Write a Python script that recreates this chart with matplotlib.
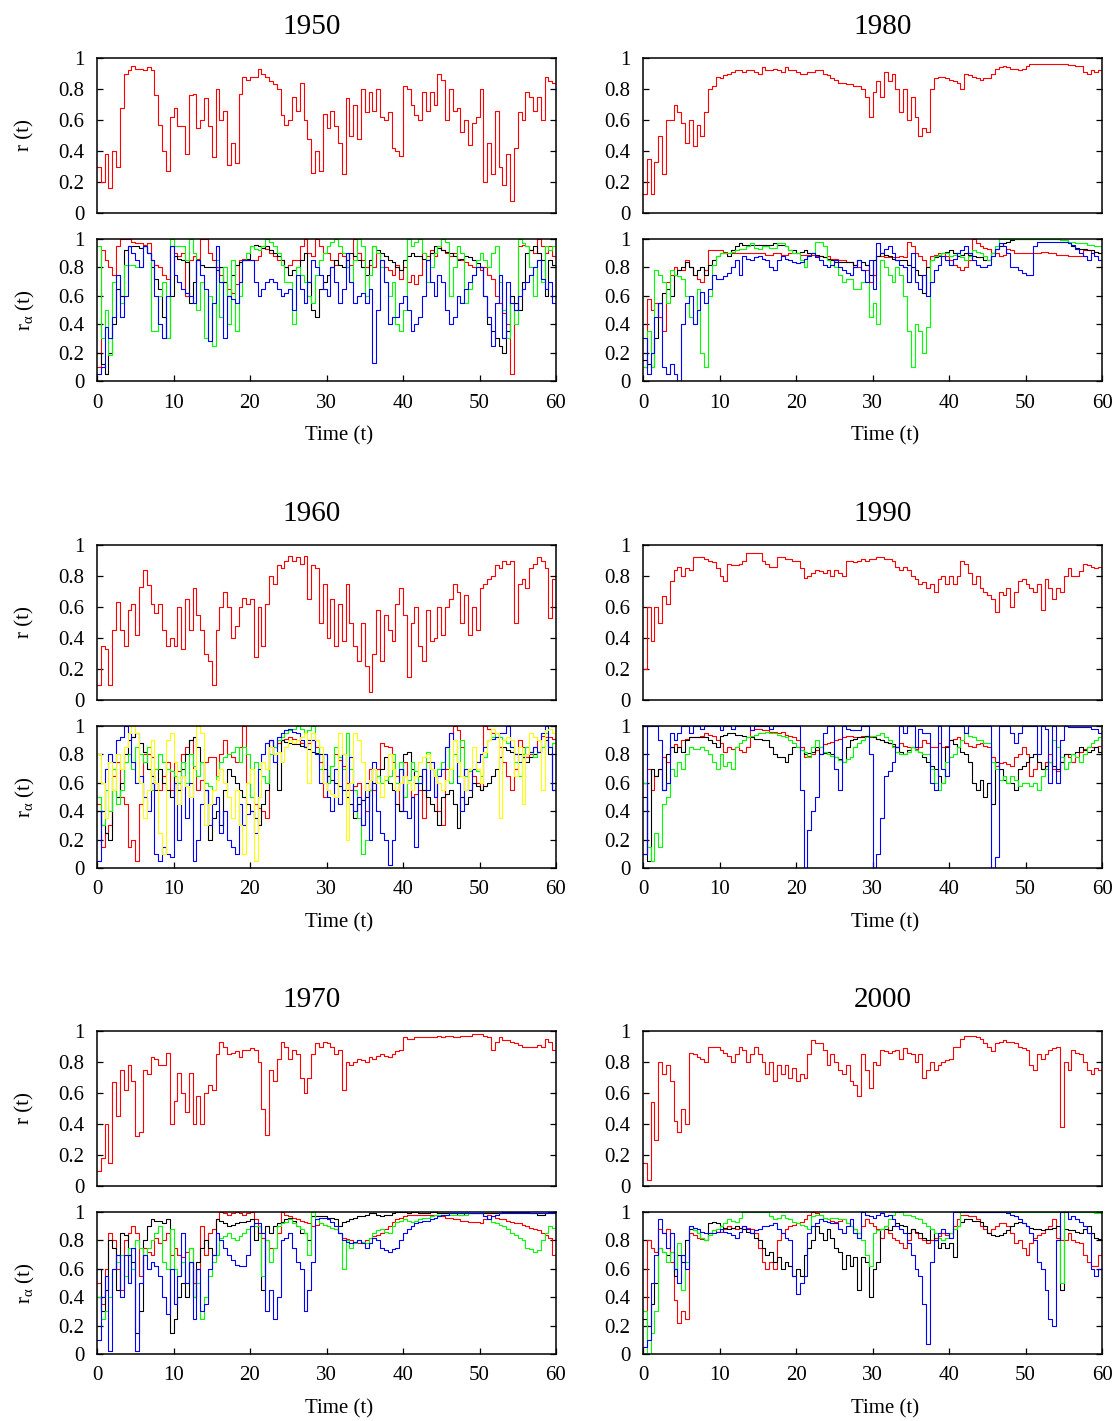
import numpy as np
import matplotlib
matplotlib.use("Agg")
import matplotlib.pyplot as plt

plt.rcParams['font.family'] = ['Liberation Serif', 'DejaVu Serif']
plt.rcParams['mathtext.fontset'] = 'custom'
plt.rcParams['mathtext.rm'] = 'Liberation Serif'
plt.rcParams['mathtext.it'] = 'Liberation Serif:italic'

# ---------------- data ----------------
T_STEP = 0.5
X_TICKS = [0, 10, 20, 30, 40, 50, 60]
Y_TICKS = [0, 0.2, 0.4, 0.6, 0.8, 1.0]
Y_TICK_LABELS = ['0', '0.2', '0.4', '0.6', '0.8', '1']

R_1950 = [0.30,0.20,0.38,0.16,0.40,0.30,0.68,0.90,0.92,0.95, 0.93,0.93,0.92,0.94,0.92,0.76,0.57,0.40,0.27,0.62,
          0.68,0.56,0.56,0.38,0.76,0.77,0.55,0.60,0.74,0.56, 0.36,0.80,0.60,0.66,0.31,0.45,0.32,0.77,0.88,0.86,
          0.88,0.88,0.93,0.90,0.88,0.85,0.83,0.80,0.63,0.57, 0.60,0.75,0.66,0.84,0.60,0.48,0.26,0.40,0.27,0.64,
          0.55,0.66,0.56,0.45,0.25,0.74,0.50,0.70,0.48,0.80, 0.65,0.78,0.66,0.80,0.62,0.60,0.65,0.42,0.40,0.37,
          0.82,0.80,0.70,0.63,0.60,0.78,0.66,0.78,0.70,0.90, 0.86,0.60,0.80,0.66,0.68,0.52,0.60,0.44,0.58,0.62,
          0.80,0.20,0.45,0.25,0.66,0.30,0.18,0.38,0.08,0.42, 0.65,0.60,0.78,0.75,0.66,0.75,0.60,0.88,0.85,0.84,0.73]
RA_1950_RED = [0.10,0.92,0.85,0.80,0.75,0.95,1.00,1.00,1.00,0.98, 0.97,0.97,0.96,0.97,0.85,0.82,0.80,0.75,0.72,0.95,
               0.90,0.88,0.90,0.60,0.85,0.88,0.86,1.00,1.00,0.90, 0.85,0.80,0.75,0.70,0.65,0.62,0.68,0.85,0.86,0.85,
               0.85,0.85,0.88,0.95,0.93,0.90,0.88,0.85,0.85,0.80, 0.82,0.85,0.85,0.95,1.00,0.90,0.88,1.00,0.95,0.90,
               0.90,0.85,0.82,0.90,0.88,0.80,0.82,1.00,0.90,0.85, 0.80,0.82,0.80,0.90,0.85,0.80,0.78,0.75,0.82,0.72,
               0.80,0.70,0.75,0.68,0.75,0.90,0.88,0.92,0.88,0.95, 0.92,0.90,0.88,0.90,0.86,0.85,0.84,0.82,0.80,0.80,
               0.78,0.80,0.75,0.72,0.60,0.55,0.48,0.40,0.05,0.50, 0.95,0.96,0.95,0.92,0.90,1.00,0.95,0.90,0.95,0.88,0.85]
RA_1950_BLACK = [0.20,0.12,0.05,0.20,0.40,0.65,0.60,0.92,0.95,0.95, 0.95,0.94,0.95,0.90,0.80,0.72,0.65,0.45,0.30,0.60,
                 0.88,0.86,0.85,0.84,0.55,0.70,0.85,0.82,0.80,0.80, 0.80,0.78,0.80,0.70,0.60,0.75,0.82,0.84,0.85,0.86,
                 0.95,0.96,0.95,0.94,0.95,0.92,0.90,0.88,0.85,0.80, 0.75,0.78,0.80,0.85,0.90,0.70,0.50,0.45,0.65,0.70,
                 0.75,0.80,0.85,0.82,0.80,0.85,0.90,0.88,0.85,0.80, 0.75,0.85,0.95,0.92,0.90,0.88,0.85,0.84,0.80,0.78,
                 0.85,0.88,0.90,0.88,0.88,0.86,0.85,0.90,0.95,0.94, 0.92,0.91,0.90,0.88,0.85,0.86,0.88,0.87,0.85,0.83,
                 0.80,0.60,0.40,0.35,0.30,0.25,0.20,0.35,0.60,0.55, 0.50,0.70,0.90,0.92,0.95,0.90,0.85,0.60,0.85,0.82,0.80]
RA_1950_GREEN = [0.95,0.30,0.50,0.18,0.70,0.75,0.55,0.82,0.82,0.82, 0.80,0.80,0.95,0.90,0.35,0.35,0.60,0.70,0.30,1.00,
                 0.95,0.95,0.95,0.85,1.00,0.90,0.50,0.70,0.30,0.60, 0.25,0.85,0.45,0.80,0.40,0.85,0.35,0.60,0.85,0.90,
                 0.95,0.93,0.92,0.95,1.00,0.98,0.95,0.90,0.82,0.70, 0.70,0.40,0.80,0.75,0.70,0.60,0.55,0.75,0.85,0.90,
                 0.95,0.98,1.00,0.95,0.90,0.80,0.70,0.85,1.00,0.95, 0.60,0.75,0.95,0.90,0.80,0.70,0.60,0.70,0.40,0.35,
                 0.50,1.00,0.95,0.98,1.00,0.90,0.70,0.80,0.90,0.95, 1.00,0.98,0.60,0.80,0.95,0.90,0.55,0.65,0.75,0.85,
                 0.90,0.85,0.80,0.90,0.95,0.70,0.50,0.30,0.55,0.40, 1.00,0.97,0.95,0.80,0.60,0.85,0.70,0.95,0.92,0.95,0.95]
RA_1950_BLUE = [0.05,0.10,0.38,0.30,0.45,0.75,0.45,0.60,0.95,0.90, 0.85,0.80,0.95,0.90,0.85,0.60,0.40,0.30,0.60,0.95,
                0.75,0.70,0.65,0.62,0.60,0.55,0.85,0.75,0.65,0.28, 0.55,0.95,0.70,0.30,0.60,0.58,0.55,0.70,0.85,0.85,
                0.85,0.70,0.60,0.65,0.70,0.72,0.70,0.65,0.60,0.62, 0.65,0.50,0.75,0.65,0.55,0.70,0.85,0.80,0.75,0.65,
                0.60,0.80,0.70,0.55,0.65,0.90,0.70,0.55,0.60,0.62, 0.55,0.65,0.13,0.50,0.85,0.70,0.40,0.45,0.45,0.55,
                0.60,0.50,0.35,0.40,0.45,0.60,0.85,0.70,0.60,0.75, 0.70,0.50,0.40,0.45,0.60,0.55,0.65,0.70,0.75,0.80,
                0.80,0.60,0.45,0.25,0.55,0.75,0.30,0.70,0.55,0.50, 0.60,0.65,0.70,0.75,0.80,0.85,0.72,0.65,0.70,0.55,0.45]

R_1960 = [0.10,0.35,0.33,0.10,0.45,0.63,0.45,0.35,0.58,0.62, 0.42,0.73,0.84,0.74,0.62,0.56,0.62,0.45,0.35,0.40,
          0.35,0.60,0.33,0.65,0.45,0.72,0.55,0.45,0.30,0.25, 0.10,0.45,0.60,0.70,0.60,0.40,0.48,0.60,0.66,0.62,
          0.65,0.28,0.60,0.35,0.62,0.80,0.75,0.87,0.85,0.90, 0.93,0.90,0.92,0.88,0.93,0.65,0.87,0.85,0.50,0.75,
          0.40,0.65,0.35,0.62,0.38,0.75,0.50,0.35,0.25,0.50, 0.22,0.05,0.30,0.58,0.25,0.55,0.45,0.38,0.62,0.72,
          0.55,0.15,0.50,0.60,0.35,0.25,0.58,0.38,0.40,0.60, 0.42,0.60,0.65,0.75,0.70,0.50,0.68,0.42,0.60,0.45,
          0.72,0.75,0.78,0.80,0.87,0.85,0.90,0.88,0.90,0.50, 0.75,0.78,0.72,0.85,0.88,0.92,0.90,0.85,0.53,0.78,0.90]
RA_1960_RED = [0.45,0.15,0.25,0.30,0.65,0.75,0.50,0.45,0.15,0.20, 0.05,0.45,0.80,0.80,0.78,0.60,0.55,0.65,0.75,0.55,
               0.75,0.68,0.80,0.85,0.90,0.70,0.55,0.62,0.75,0.78, 0.78,0.65,0.80,0.90,0.80,0.78,0.75,0.85,1.00,0.60,
               0.50,0.45,0.42,0.40,0.35,0.90,0.85,0.88,0.90,0.91, 0.92,0.91,0.90,0.88,0.85,0.88,0.90,0.85,0.75,0.50,
               0.65,0.72,0.80,0.76,0.72,0.60,0.55,0.58,0.60,0.30, 0.40,0.70,0.55,0.70,0.88,0.86,0.85,0.75,0.65,0.40,
               0.75,0.60,0.50,0.52,0.55,0.35,0.75,0.70,0.65,0.40, 0.30,0.70,0.95,1.00,0.97,0.85,0.55,0.70,0.65,0.60,
               0.55,1.00,0.98,0.95,0.95,0.85,0.75,0.65,0.55,0.70, 0.90,0.85,0.78,0.80,0.85,0.90,0.93,0.92,0.92,0.91,0.90]
RA_1960_BLACK = [0.40,0.30,0.25,0.20,0.55,0.50,0.60,0.80,0.90,0.92, 0.95,0.88,0.82,0.70,0.65,0.55,0.70,0.60,0.55,0.50,
                 0.65,0.55,0.70,0.80,0.90,0.92,0.85,0.75,0.55,0.20, 0.35,0.40,0.30,0.55,0.70,0.65,0.60,0.55,0.50,0.45,
                 0.40,0.35,0.30,0.45,0.55,0.90,0.80,0.55,0.90,0.89, 0.88,0.87,0.87,0.86,0.85,0.84,0.82,0.81,0.80,0.70,
                 0.65,0.62,0.60,0.58,0.55,0.50,0.45,0.35,0.45,0.48, 0.50,0.55,0.60,0.65,0.70,0.78,0.60,0.55,0.45,0.40,
                 0.80,0.82,0.70,0.60,0.65,0.55,0.50,0.45,0.40,0.30, 0.50,0.52,0.55,0.45,0.28,0.50,0.45,0.50,0.60,0.58,
                 0.55,0.58,0.60,0.65,0.70,0.78,0.85,0.83,0.82,0.80, 0.80,0.78,0.75,0.78,0.80,0.82,0.85,0.90,0.80,0.55,0.52]
RA_1960_GREEN = [0.50,0.30,0.55,0.40,0.70,0.45,0.55,0.75,0.80,0.70, 0.85,0.80,0.75,0.85,0.55,0.70,0.80,0.75,0.70,0.68,
                 0.65,0.60,0.75,0.60,0.80,0.72,0.65,0.75,0.60,0.58, 0.55,0.65,0.75,0.78,0.80,0.82,0.85,0.75,0.85,0.80,
                 0.50,0.75,0.70,0.65,0.60,0.80,0.85,0.90,0.92,0.95, 0.97,0.98,1.00,0.98,0.95,0.97,1.00,0.90,0.70,0.80,
                 0.60,0.72,0.85,0.78,0.70,0.95,0.70,0.55,0.35,0.10, 0.20,0.55,0.70,0.65,0.60,0.62,0.65,0.80,0.60,0.75,
                 0.50,0.62,0.75,0.68,0.60,0.70,0.82,0.70,0.65,0.70, 0.75,0.85,0.60,0.80,0.65,0.90,0.65,0.68,0.70,0.68,
                 0.65,0.78,0.90,0.92,0.95,0.92,0.90,0.88,0.85,0.75, 0.65,0.80,0.85,0.82,0.78,0.82,0.85,0.95,0.85,0.88,0.90]
RA_1960_BLUE = [0.05,0.40,0.70,0.80,0.75,0.90,0.92,1.00,0.95,0.75, 0.60,0.65,0.50,0.40,0.60,0.10,0.05,0.15,0.10,0.08,
                0.60,0.20,0.65,0.35,0.60,0.05,0.20,0.45,0.55,0.30, 0.45,0.50,0.25,0.40,0.20,0.15,0.10,0.45,0.30,0.38,
                0.40,0.25,0.70,0.80,0.88,0.90,0.75,0.92,0.95,0.97, 0.98,0.96,0.95,0.90,0.85,0.90,0.90,0.80,0.60,0.80,
                0.50,0.40,0.70,0.45,0.80,0.55,0.78,0.40,0.50,0.30, 0.60,0.20,0.75,0.40,0.25,0.20,0.02,0.20,0.55,0.70,
                0.40,0.35,0.50,0.15,0.60,0.70,0.55,0.75,0.50,0.65, 0.70,0.85,0.95,0.90,0.60,0.40,0.70,0.55,0.70,0.75,
                0.80,0.85,0.90,0.91,0.92,0.95,0.95,1.00,0.85,0.80, 0.75,0.78,0.80,0.82,0.85,0.82,0.95,1.00,0.85,0.55,0.82]
RA_1960_YELLOW = [0.80,0.60,0.35,0.75,0.55,0.80,0.70,0.85,0.95,1.00, 0.95,0.60,0.35,0.55,0.90,0.60,0.25,0.10,0.90,0.95,
                  0.75,0.45,0.65,0.58,0.50,0.70,1.00,0.95,0.30,0.45, 0.55,0.62,0.70,0.60,0.50,0.35,0.55,0.30,0.10,0.60,
                  0.70,0.05,0.50,0.75,0.70,0.85,0.80,0.82,0.75,0.85, 0.90,0.88,0.90,0.92,0.95,0.60,0.95,0.90,0.85,0.60,
                  0.55,0.52,0.50,0.95,0.80,0.20,0.60,0.95,0.90,0.75, 0.55,0.62,0.70,0.60,0.50,0.65,0.80,0.70,0.55,0.60,
                  0.65,0.60,0.55,0.65,0.75,0.78,0.80,0.70,0.65,0.60, 0.55,0.62,0.70,0.90,0.75,0.65,0.55,0.70,0.85,0.70,
                  0.60,0.82,0.90,0.98,0.95,0.35,0.90,0.92,0.90,0.65, 0.85,0.45,0.80,0.95,0.92,0.90,0.55,0.97,0.98,0.95,0.95]

R_1970 = [0.10,0.18,0.40,0.15,0.67,0.45,0.75,0.62,0.78,0.68, 0.32,0.35,0.75,0.72,0.83,0.82,0.78,0.78,0.86,0.40,
          0.55,0.73,0.60,0.48,0.73,0.40,0.58,0.40,0.60,0.65, 0.62,0.85,0.93,0.90,0.85,0.86,0.87,0.83,0.88,0.88,
          0.89,0.88,0.80,0.50,0.33,0.75,0.68,0.82,0.93,0.90, 0.82,0.88,0.85,0.70,0.60,0.70,0.85,0.92,0.90,0.93,
          0.92,0.90,0.85,0.88,0.62,0.80,0.78,0.80,0.82,0.81, 0.80,0.83,0.82,0.84,0.85,0.84,0.83,0.85,0.87,0.88,
          0.96,0.95,0.95,0.96,0.96,0.96,0.96,0.96,0.96,0.97, 0.96,0.97,0.97,0.96,0.96,0.97,0.97,0.97,0.98,0.98,
          0.98,0.97,0.96,0.88,0.93,0.96,0.94,0.94,0.93,0.92, 0.91,0.90,0.90,0.90,0.90,0.91,0.90,0.95,0.93,0.88,0.85]
RA_1970_RED = [0.50,0.35,0.60,0.85,0.80,0.60,0.45,0.80,0.85,0.90, 0.85,0.55,0.75,0.72,0.70,0.82,0.78,0.80,0.85,0.70,
               0.75,0.70,0.68,0.72,0.75,0.50,0.60,0.90,0.70,0.85, 0.88,0.95,1.00,0.99,0.98,0.99,1.00,0.99,0.98,0.99,
               1.00,0.95,0.85,0.82,0.80,0.75,0.75,0.85,1.00,0.98, 0.97,0.96,0.95,0.94,0.93,0.92,0.90,0.91,0.92,0.91,
               0.90,0.89,0.88,0.85,0.82,0.81,0.80,0.79,0.78,0.79, 0.80,0.82,0.83,0.84,0.85,0.88,0.90,0.93,0.95,0.96,
               0.97,0.98,0.98,0.98,0.98,0.98,0.98,0.98,0.98,0.97, 0.97,0.96,0.96,0.95,0.95,0.94,0.94,0.93,0.93,0.93,
               0.92,0.95,0.98,0.97,0.96,0.95,0.95,0.94,0.93,0.92, 0.92,0.91,0.90,0.89,0.88,0.87,0.85,0.84,0.82,0.70,0.60]
RA_1970_BLACK = [0.60,0.30,0.45,0.80,0.75,0.45,0.85,0.84,0.70,0.65, 0.15,0.30,0.80,0.90,0.95,0.94,0.94,0.92,0.95,0.15,
                 0.25,0.40,0.50,0.40,0.65,0.40,0.65,0.75,0.80,0.75, 0.70,0.95,0.94,0.92,0.90,0.91,0.92,0.93,0.93,0.94,
                 0.95,0.80,0.90,0.45,0.90,0.85,0.90,0.92,0.93,0.95, 0.96,0.94,0.90,0.85,0.85,0.80,0.97,0.97,0.97,0.97,
                 0.96,0.96,0.95,0.90,0.93,0.94,0.95,0.96,0.97,0.97, 0.98,0.99,0.99,0.98,0.97,0.98,0.98,0.99,1.00,1.00,
                 1.00,0.99,1.00,1.00,0.99,0.99,0.99,1.00,1.00,0.99, 0.99,0.99,0.99,0.99,0.98,0.98,0.99,0.99,0.99,0.99,
                 0.99,0.99,0.99,0.99,0.99,0.99,1.00,1.00,1.00,1.00, 1.00,1.00,1.00,0.99,0.99,0.98,0.98,0.99,1.00,1.00,0.98]
RA_1970_GREEN = [0.40,0.25,0.30,0.40,0.60,0.65,0.70,0.55,0.75,0.60, 0.80,0.75,0.70,0.75,0.80,0.85,0.90,0.65,0.60,0.88,
                 0.60,0.55,0.65,0.50,0.75,0.40,0.50,0.25,0.40,0.55, 0.65,0.70,0.82,0.83,0.85,0.82,0.80,0.83,0.85,0.88,
                 0.90,0.90,0.90,0.55,0.80,0.65,0.75,0.90,0.92,0.93, 0.95,0.92,0.90,0.88,0.85,0.70,1.00,0.95,0.92,0.91,
                 0.90,0.89,0.88,0.85,0.60,0.80,0.75,0.78,0.80,0.79, 0.78,0.82,0.85,0.87,0.88,0.86,0.85,0.90,0.93,0.94,
                 0.95,0.94,0.93,0.94,0.95,0.96,0.96,0.97,0.98,0.98, 0.98,0.98,0.98,0.98,0.98,0.98,0.98,0.99,0.99,0.99,
                 0.99,0.97,0.95,0.93,0.92,0.91,0.90,0.88,0.85,0.84, 0.82,0.80,0.75,0.74,0.72,0.73,0.80,0.85,0.90,0.89,0.88]
RA_1970_BLUE = [0.10,0.40,0.55,0.02,0.60,0.70,0.40,0.70,0.50,0.75, 0.02,0.50,0.70,0.60,0.65,0.62,0.55,0.40,0.28,0.60,
                0.35,0.55,0.85,0.50,0.65,0.25,0.60,0.30,0.35,0.60, 0.70,0.85,0.80,0.75,0.70,0.66,0.63,0.62,0.62,0.70,
                0.90,0.92,0.92,0.85,0.30,0.45,0.25,0.40,0.80,0.82, 0.85,0.75,0.65,0.60,0.30,0.45,0.65,0.95,0.96,0.96,
                0.95,0.93,0.90,0.85,0.80,0.79,0.78,0.79,0.80,0.78, 0.75,0.78,0.82,0.80,0.75,0.73,0.72,0.74,0.75,0.80,
                0.85,0.88,0.90,0.92,0.93,0.94,0.94,0.95,0.96,0.97, 0.98,0.98,0.99,0.99,0.99,0.99,0.99,0.99,0.99,0.99,
                0.99,0.97,0.95,0.97,0.98,0.99,0.99,0.99,0.99,0.99, 0.99,0.99,0.99,0.99,0.99,0.99,0.99,0.99,0.99,0.99,0.98]

R_1980 = [0.12,0.35,0.12,0.33,0.50,0.25,0.60,0.60,0.70,0.65, 0.58,0.45,0.60,0.43,0.57,0.50,0.65,0.80,0.82,0.88,
          0.87,0.89,0.90,0.91,0.92,0.92,0.91,0.92,0.92,0.91, 0.90,0.94,0.92,0.92,0.93,0.92,0.91,0.94,0.92,0.92,
          0.91,0.90,0.90,0.91,0.91,0.92,0.92,0.90,0.89,0.87, 0.86,0.84,0.84,0.83,0.83,0.82,0.82,0.80,0.75,0.62,
          0.78,0.85,0.75,0.91,0.85,0.90,0.80,0.65,0.80,0.60, 0.75,0.62,0.50,0.55,0.52,0.80,0.87,0.88,0.88,0.87,
          0.86,0.85,0.84,0.80,0.90,0.89,0.88,0.87,0.86,0.87, 0.87,0.90,0.93,0.94,0.95,0.94,0.93,0.93,0.92,0.93,
          0.95,0.96,0.96,0.96,0.96,0.96,0.96,0.96,0.96,0.96, 0.96,0.955,0.955,0.95,0.95,0.91,0.90,0.92,0.91,0.92,0.84]
RA_1980_RED = [0.10,0.58,0.50,0.55,0.45,0.35,0.70,0.75,0.80,0.78, 0.78,0.85,0.80,0.75,0.72,0.70,0.78,0.92,0.92,0.92,
               0.92,0.91,0.90,0.90,0.90,0.90,0.90,0.90,0.90,0.90, 0.90,0.90,0.89,0.89,0.90,0.90,0.89,0.89,0.90,0.90,
               0.90,0.89,0.89,0.89,0.89,0.88,0.88,0.87,0.88,0.86, 0.86,0.85,0.85,0.84,0.84,0.80,0.80,0.78,0.78,0.70,
               0.75,0.88,0.88,0.87,0.87,0.87,0.87,0.88,0.87,0.98, 0.95,0.90,0.88,0.85,0.80,0.88,0.89,0.90,0.90,0.88,
               0.85,0.82,0.80,0.78,0.80,0.85,1.00,0.97,0.95,0.94, 0.93,0.90,0.90,0.88,0.89,0.93,0.92,0.90,0.90,0.90,
               0.90,0.90,0.90,0.90,0.91,0.91,0.90,0.90,0.89,0.89, 0.89,0.88,0.88,0.88,0.88,0.92,0.92,0.90,0.91,0.90,0.88]
RA_1980_BLACK = [0.15,0.12,0.10,0.30,0.55,0.62,0.65,0.60,0.75,0.78, 0.80,0.84,0.80,0.75,0.78,0.80,0.75,0.82,0.85,0.88,
                 0.90,0.90,0.88,0.92,0.95,0.97,0.96,0.96,0.96,0.96, 0.96,0.96,0.96,0.96,0.97,0.96,0.96,0.95,0.92,0.92,
                 0.90,0.91,0.92,0.90,0.90,0.89,0.88,0.87,0.86,0.85, 0.84,0.84,0.84,0.84,0.84,0.82,0.85,0.84,0.82,0.75,
                 0.85,0.88,0.90,0.89,0.88,0.86,0.85,0.85,0.85,0.82, 0.80,0.78,0.75,0.62,0.80,0.85,0.87,0.88,0.90,0.91,
                 0.92,0.90,0.88,0.89,0.90,0.89,0.88,0.87,0.87,0.85, 0.85,0.90,0.93,0.95,0.97,0.98,0.99,1.00,1.00,1.00,
                 1.00,1.00,1.00,1.00,1.00,1.00,1.00,1.00,1.00,0.99, 0.99,0.97,0.95,0.94,0.93,0.93,0.92,0.92,0.91,0.90,0.88]
RA_1980_GREEN = [0.10,0.35,0.10,0.78,0.75,0.70,0.55,0.78,0.75,0.74, 0.72,0.60,0.45,0.40,0.65,0.20,0.10,0.60,0.82,0.88,
                 0.90,0.90,0.90,0.91,0.92,0.93,0.93,0.95,0.97,0.94, 0.93,0.95,0.95,0.94,0.94,0.97,0.97,0.95,0.92,0.90,
                 0.90,0.85,0.80,0.88,0.90,0.98,0.98,0.95,0.85,0.82, 0.80,0.75,0.70,0.72,0.72,0.65,0.65,0.70,0.70,0.45,
                 0.55,0.40,0.85,0.80,0.75,0.70,0.80,0.75,0.60,0.35, 0.10,0.40,0.35,0.20,0.38,0.85,0.88,0.89,0.90,0.90,
                 0.88,0.89,0.90,0.87,0.85,0.88,0.92,0.91,0.90,0.88, 0.85,0.90,0.95,1.00,1.00,1.00,1.00,1.00,1.00,1.00,
                 1.00,1.00,1.00,1.00,1.00,1.00,1.00,1.00,1.00,0.99, 0.99,0.98,0.98,0.97,0.97,0.97,0.96,0.96,0.95,0.95,0.85]
RA_1980_BLUE = [0.30,0.05,0.20,0.45,0.55,0.10,0.05,0.12,0.05,0.00, 0.40,0.55,0.60,0.40,0.50,0.63,0.55,0.65,0.75,0.72,
                0.72,0.74,0.76,0.80,0.85,0.75,0.88,0.86,0.85,0.87, 0.88,0.86,0.85,0.80,0.78,0.85,0.88,0.86,0.85,0.84,
                0.83,0.84,0.86,0.88,0.90,0.87,0.85,0.82,0.80,0.82, 0.85,0.80,0.78,0.76,0.75,0.80,0.85,0.78,0.70,0.85,
                0.65,0.97,0.90,0.93,0.95,0.90,0.85,0.82,0.80,0.70, 0.90,0.70,0.65,0.75,0.60,0.70,0.78,0.82,0.88,0.85,
                0.82,0.86,0.90,0.92,0.95,0.90,0.85,0.82,0.80,0.80, 0.82,0.88,0.93,0.97,0.95,0.90,0.80,0.80,0.78,0.76,
                0.75,0.75,0.95,0.98,0.98,0.98,0.98,0.98,0.98,0.98, 0.98,0.97,0.96,0.93,0.90,0.88,0.85,0.90,0.88,0.85,0.78]

R_1990 = [0.20,0.60,0.38,0.60,0.50,0.67,0.62,0.77,0.84,0.86, 0.80,0.85,0.84,0.92,0.92,0.92,0.91,0.90,0.89,0.85,
          0.80,0.77,0.88,0.87,0.87,0.88,0.90,0.95,0.95,0.95, 0.95,0.90,0.88,0.86,0.86,0.92,0.92,0.91,0.91,0.90,
          0.90,0.85,0.79,0.80,0.82,0.84,0.83,0.82,0.84,0.80, 0.84,0.82,0.80,0.90,0.90,0.89,0.90,0.91,0.90,0.91,
          0.91,0.92,0.92,0.91,0.91,0.90,0.86,0.84,0.86,0.84, 0.80,0.78,0.75,0.76,0.72,0.75,0.70,0.78,0.80,0.75,
          0.80,0.75,0.80,0.90,0.88,0.82,0.75,0.80,0.72,0.70, 0.68,0.65,0.57,0.70,0.68,0.72,0.60,0.70,0.77,0.78,
          0.75,0.72,0.70,0.75,0.58,0.78,0.72,0.65,0.72,0.70, 0.80,0.85,0.80,0.80,0.83,0.88,0.87,0.86,0.85,0.86,0.87]
RA_1990_RED = [0.10,0.70,0.55,0.65,0.70,0.78,0.75,0.85,0.87,0.85, 0.90,0.91,0.92,0.92,0.92,0.93,0.95,0.94,0.93,0.90,
               0.88,0.82,0.85,0.84,0.85,0.83,0.82,0.85,0.97,0.98, 0.98,0.97,0.97,0.96,0.96,0.95,0.96,0.94,0.93,0.92,
               0.90,0.85,0.78,0.79,0.80,0.83,0.85,0.87,0.88,0.89, 0.90,0.91,0.92,0.93,0.93,0.92,0.92,0.93,0.93,0.92,
               0.92,0.91,0.90,0.89,0.88,0.86,0.85,0.88,0.86,0.85, 0.85,0.84,0.85,0.90,0.88,0.85,0.85,0.88,0.85,0.86,
               0.90,0.91,0.92,0.90,0.88,0.86,0.85,0.87,0.88,0.86, 0.85,0.78,0.72,0.74,0.75,0.73,0.72,0.78,0.80,0.85,
               0.80,0.65,0.70,0.75,0.70,0.75,0.80,0.70,0.68,0.75, 0.80,0.78,0.75,0.78,0.82,0.84,0.85,0.85,0.85,0.86,0.85]
RA_1990_BLACK = [0.50,0.05,0.70,0.65,0.70,0.55,0.80,0.85,0.82,0.85, 0.82,0.90,0.92,0.92,0.92,0.92,0.92,0.90,0.88,0.85,
                 0.93,0.94,0.95,0.95,0.94,0.94,0.93,0.92,0.92,0.91, 0.91,0.90,0.90,0.85,0.80,0.78,0.78,0.75,0.80,0.85,
                 0.85,0.83,0.80,0.81,0.82,0.85,0.80,0.81,0.82,0.80, 0.78,0.77,0.75,0.85,0.90,0.91,0.92,0.92,0.93,0.93,
                 0.92,0.91,0.90,0.89,0.88,0.87,0.85,0.82,0.80,0.83, 0.85,0.83,0.82,0.78,0.75,0.72,0.70,0.65,0.60,0.85,
                 0.90,0.87,0.85,0.82,0.80,0.75,0.60,0.55,0.62,0.50, 0.60,0.45,0.75,0.70,0.62,0.60,0.60,0.55,0.70,0.72,
                 0.75,0.78,0.80,0.75,0.70,0.72,0.75,0.72,0.70,0.75, 0.80,0.80,0.80,0.82,0.85,0.83,0.82,0.83,0.85,0.82,0.80]
RA_1990_GREEN = [0.60,0.15,0.05,0.25,0.15,0.45,0.50,0.70,0.65,0.75, 0.70,0.80,0.85,0.84,0.84,0.85,0.83,0.80,0.75,0.70,
                 0.80,0.72,0.75,0.70,0.85,0.88,0.90,0.92,0.93,0.94, 0.95,0.95,0.96,0.95,0.95,0.94,0.93,0.92,0.90,0.88,
                 0.85,0.83,0.82,0.78,0.85,0.90,0.85,0.82,0.80,0.79, 0.78,0.76,0.75,0.77,0.78,0.85,0.88,0.90,0.92,0.93,
                 0.93,0.94,0.95,0.92,0.90,0.85,0.82,0.80,0.80,0.82, 0.85,0.83,0.82,0.80,0.80,0.70,0.60,0.55,0.60,0.75,
                 0.78,0.80,0.85,0.90,0.95,0.93,0.92,0.90,0.90,0.88, 0.88,0.75,0.70,0.62,0.65,0.60,0.65,0.62,0.58,0.60,
                 0.60,0.58,0.60,0.55,0.65,0.70,0.75,0.90,0.85,0.78, 0.70,0.75,0.80,0.78,0.75,0.80,0.85,0.88,0.90,0.92,0.92]
RA_1990_BLUE = [0.10,1.00,1.00,1.00,0.90,0.55,0.60,0.95,0.90,0.95, 1.00,1.00,0.95,1.00,1.00,0.98,1.00,1.00,1.00,1.00,
                0.97,1.00,1.00,0.98,1.00,1.00,1.00,1.00,0.97,1.00, 1.00,1.00,1.00,0.98,1.00,1.00,1.00,1.00,1.00,1.00,
                1.00,0.55,0.00,0.27,0.40,0.50,0.80,0.95,1.00,1.00, 0.70,0.55,1.00,0.98,0.97,0.97,0.97,1.00,1.00,0.80,
                0.00,0.10,0.35,0.65,0.68,0.75,0.85,1.00,0.95,1.00, 1.00,0.85,0.98,0.95,0.95,0.60,0.55,1.00,0.70,0.65,
                1.00,1.00,1.00,1.00,0.95,1.00,1.00,1.00,1.00,1.00, 1.00,0.00,0.08,1.00,1.00,1.00,0.95,0.88,0.95,1.00,
                1.00,1.00,1.00,0.80,1.00,0.98,0.60,1.00,0.60,0.90, 1.00,0.99,0.99,0.99,0.99,0.99,0.99,0.98,0.98,0.95,0.98]

R_2000 = [0.15,0.04,0.54,0.30,0.80,0.72,0.78,0.68,0.42,0.35, 0.50,0.40,0.86,0.85,0.83,0.82,0.80,0.90,0.90,0.90,
          0.88,0.86,0.84,0.80,0.85,0.90,0.88,0.80,0.85,0.90, 0.85,0.80,0.72,0.80,0.68,0.78,0.72,0.78,0.70,0.76,
          0.68,0.72,0.70,0.85,0.94,0.92,0.92,0.88,0.78,0.85, 0.80,0.75,0.72,0.78,0.68,0.65,0.58,0.85,0.75,0.63,
          0.80,0.78,0.88,0.87,0.86,0.87,0.88,0.82,0.89,0.86, 0.85,0.80,0.85,0.70,0.75,0.80,0.75,0.78,0.80,0.81,
          0.82,0.90,0.90,0.95,0.97,0.97,0.97,0.96,0.95,0.92, 0.90,0.87,0.92,0.93,0.94,0.93,0.93,0.92,0.90,0.89,
          0.88,0.78,0.75,0.85,0.82,0.85,0.88,0.89,0.90,0.38, 0.80,0.75,0.88,0.86,0.85,0.80,0.75,0.72,0.76,0.75,0.76]
RA_2000_RED = [0.30,0.80,0.75,0.72,0.88,0.85,0.88,0.65,0.38,0.22, 0.30,0.25,0.85,0.84,0.82,0.81,0.80,0.85,0.87,0.86,
               0.86,0.88,0.90,0.89,0.88,0.89,0.90,0.89,0.88,0.85, 0.75,0.65,0.60,0.65,0.60,0.80,0.85,0.88,0.90,0.91,
               0.92,0.93,0.95,0.98,1.00,0.99,0.98,0.96,0.95,0.94, 0.93,0.94,0.95,0.92,0.90,0.88,0.85,0.90,0.95,0.92,
               0.90,0.88,0.82,0.90,0.85,0.82,0.80,0.78,0.75,0.80, 0.88,0.85,0.82,0.80,0.78,0.80,0.82,0.83,0.85,0.84,
               0.85,0.90,0.95,0.98,0.98,0.97,0.97,0.95,0.90,0.88, 0.85,0.88,0.90,0.92,0.92,0.90,0.85,0.78,0.80,0.75,
               0.70,0.78,0.82,0.84,0.85,0.88,0.90,0.95,0.82,0.80, 0.80,0.85,0.80,0.79,0.78,0.70,0.65,0.62,0.62,0.70,0.72]
RA_2000_BLACK = [0.25,0.20,0.35,0.50,0.75,0.72,0.70,0.72,0.55,0.70, 0.65,0.80,0.88,0.87,0.85,0.82,0.80,0.92,0.93,0.92,
                 0.90,0.89,0.88,0.89,0.90,0.89,0.88,0.86,0.85,0.82, 0.80,0.75,0.70,0.72,0.65,0.68,0.60,0.65,0.62,0.55,
                 0.60,0.55,0.70,0.75,0.80,0.90,0.85,0.80,0.88,0.82, 0.75,0.72,0.60,0.70,0.62,0.68,0.45,0.68,0.65,0.40,
                 0.60,0.65,0.88,0.88,0.87,0.90,0.92,0.91,0.90,0.85, 0.88,0.86,0.85,0.82,0.80,0.88,0.80,0.75,0.78,0.75,
                 0.78,0.68,0.90,0.93,0.95,0.95,0.94,0.94,0.93,0.90, 0.85,0.84,0.83,0.84,0.85,0.87,0.90,0.92,0.93,0.92,
                 0.90,0.89,0.88,0.88,0.87,0.88,0.88,0.89,0.90,0.45, 0.88,0.87,0.87,0.86,0.85,0.88,0.90,0.85,0.82,0.81,0.80]
RA_2000_GREEN = [0.30,0.00,0.15,0.30,0.75,0.72,0.65,0.72,0.60,0.78, 0.45,0.65,0.90,0.87,0.85,0.82,0.80,0.84,0.87,0.88,
                 0.90,0.92,0.95,0.94,0.93,0.96,1.00,1.00,1.00,1.00, 1.00,1.00,1.00,0.97,0.95,0.96,0.98,0.96,0.95,0.93,
                 0.92,0.91,0.90,0.88,0.97,0.98,0.98,0.96,0.95,0.96, 0.96,0.95,0.95,0.92,0.90,0.88,0.85,0.80,0.70,0.62,
                 0.85,0.87,0.88,0.90,0.95,0.98,1.00,1.00,0.98,0.98, 0.97,0.96,0.95,0.92,0.90,0.88,0.85,0.82,0.80,0.82,
                 0.85,0.88,0.90,1.00,1.00,1.00,1.00,1.00,1.00,1.00, 1.00,1.00,1.00,1.00,1.00,1.00,1.00,1.00,1.00,1.00,
                 1.00,1.00,1.00,1.00,1.00,1.00,1.00,1.00,1.00,0.50, 1.00,1.00,1.00,1.00,1.00,1.00,1.00,1.00,0.99,0.99,0.99]
RA_2000_BLUE = [0.05,0.10,0.50,0.70,0.95,0.85,0.75,0.85,0.60,0.50, 0.70,0.60,0.90,0.89,0.88,0.86,0.85,0.85,0.85,0.86,
                0.88,0.86,0.85,0.84,0.82,0.86,0.90,0.88,0.85,0.87, 0.88,0.90,0.90,0.91,0.92,0.88,0.85,0.82,0.80,0.55,
                0.42,0.50,0.55,0.85,0.90,0.92,0.95,0.94,0.93,0.92, 0.92,0.88,0.85,0.90,0.95,0.85,0.82,1.00,0.98,0.97,
                0.96,0.98,0.99,0.97,0.98,0.95,0.90,0.88,0.85,0.78, 0.70,0.60,0.55,0.35,0.07,0.65,0.80,0.85,0.88,0.85,
                0.82,1.00,1.00,1.00,1.00,1.00,1.00,1.00,1.00,1.00, 1.00,1.00,1.00,1.00,1.00,0.99,0.98,0.97,0.95,0.92,
                0.90,0.85,0.80,0.65,0.60,0.45,0.25,0.20,0.80,1.00, 1.00,0.95,0.97,0.95,0.93,0.90,0.85,0.60,0.55,0.60,0.45]

RED, BLACK, GREEN, BLUE, YELLOW = '#ff0000', '#000000', '#00ff00', '#0000ff', '#ffff00'

PANELS = [
    # (year, column, row, r series, [(color, r_alpha series), ...])
    ('1950', 0, 0, R_1950, [(RED, RA_1950_RED), (BLACK, RA_1950_BLACK), (GREEN, RA_1950_GREEN), (BLUE, RA_1950_BLUE)]),
    ('1960', 0, 1, R_1960, [(RED, RA_1960_RED), (BLACK, RA_1960_BLACK), (GREEN, RA_1960_GREEN), (BLUE, RA_1960_BLUE), (YELLOW, RA_1960_YELLOW)]),
    ('1970', 0, 2, R_1970, [(RED, RA_1970_RED), (BLACK, RA_1970_BLACK), (GREEN, RA_1970_GREEN), (BLUE, RA_1970_BLUE)]),
    ('1980', 1, 0, R_1980, [(RED, RA_1980_RED), (BLACK, RA_1980_BLACK), (GREEN, RA_1980_GREEN), (BLUE, RA_1980_BLUE)]),
    ('1990', 1, 1, R_1990, [(RED, RA_1990_RED), (BLACK, RA_1990_BLACK), (GREEN, RA_1990_GREEN), (BLUE, RA_1990_BLUE)]),
    ('2000', 1, 2, R_2000, [(RED, RA_2000_RED), (BLACK, RA_2000_BLACK), (GREEN, RA_2000_GREEN), (BLUE, RA_2000_BLUE)]),
]

# ---------------- layout (pixels) ----------------
W, H = 1118, 1421
fig = plt.figure(figsize=(W / 100, H / 100), dpi=100)

COL_X = [(97, 556), (643, 1102)]
ROW_OFF = [0, 487, 973]
TOP_Y = (58, 213)
BOT_Y = (239, 381)
TITLE_X = [312, 883]
XLABEL_X = [339, 885]
FS = 15


def add_ax(x0, x1, y0, y1):
    return fig.add_axes([x0 / W, 1 - y1 / H, (x1 - x0) / W, (y1 - y0) / H])


def style(ax, bottom):
    ax.set_xlim(0, 60)
    ax.set_ylim(0, 1)
    ax.set_yticks(Y_TICKS)
    ax.set_yticklabels(Y_TICK_LABELS)
    for s in ax.spines.values():
        s.set_linewidth(1.1)
    ax.tick_params(axis='y', direction='in', left=True, right=True, length=4,
                   width=0.9, labelsize=FS, pad=9)
    if bottom:
        ax.set_xticks(X_TICKS)
        ax.tick_params(axis='x', direction='in', bottom=True, top=False, length=4,
                       width=0.9, labelsize=FS, pad=9)
    else:
        ax.set_xticks([])


for year, col, row, r_series, ra_list in PANELS:
    x0, x1 = COL_X[col]
    off = ROW_OFF[row]
    ax1 = add_ax(x0, x1, TOP_Y[0] + off, TOP_Y[1] + off)
    t = np.arange(len(r_series)) * T_STEP
    ax1.plot(t, r_series, color=RED, lw=0.8, drawstyle='steps-post')
    style(ax1, False)

    ax2 = add_ax(x0, x1, BOT_Y[0] + off, BOT_Y[1] + off)
    for color, series in ra_list:
        ts = np.arange(len(series)) * T_STEP
        ax2.plot(ts, series, color=color, lw=0.8, drawstyle='steps-post')
    style(ax2, True)

    fig.text(TITLE_X[col] / W, 1 - (27 + off) / H, year, ha='center', va='center', fontsize=21)
    fig.text(XLABEL_X[col] / W, 1 - (436 + off) / H, 'Time (t)', ha='center', va='center', fontsize=FS)
    if col == 0:
        fig.text(25 / W, 1 - ((TOP_Y[0] + TOP_Y[1]) / 2 + off) / H, 'r (t)', rotation=90,
                 ha='center', va='center', fontsize=FS)
        fig.text(25 / W, 1 - ((BOT_Y[0] + BOT_Y[1]) / 2 + off) / H, r'r$_\mathregular{\alpha}$ (t)', rotation=90,
                 ha='center', va='center', fontsize=FS)

fig.savefig('out.png', dpi=100)
